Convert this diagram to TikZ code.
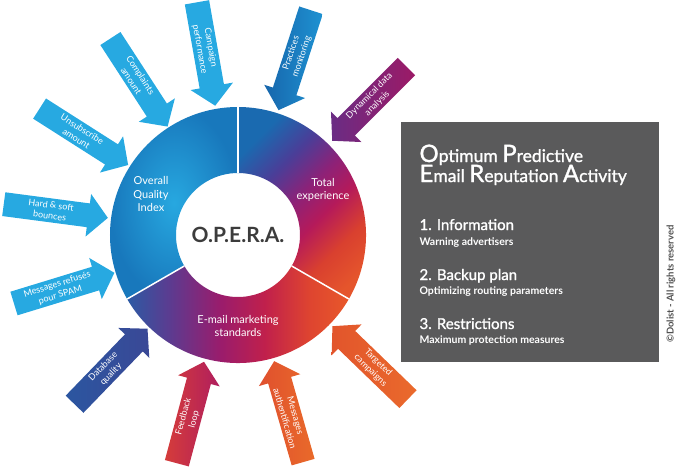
\documentclass[tikz,border=0pt]{standalone}
\usepackage{fontspec}
\setmainfont{Lato}
\newfontfamily\medfont[FakeBold=1.3]{Lato}
\usepackage{xcolor}
\usetikzlibrary{shapes.arrows,calc}
\definecolor{cyanA}{HTML}{27A9E1}
\definecolor{ringCyan}{HTML}{27A8E0}
\definecolor{ringBlue}{HTML}{1878BC}
\definecolor{boxGray}{HTML}{5A5A5B}
\definecolor{operaGray}{HTML}{3C3C3C}
\definecolor{copyGray}{HTML}{505050}
\definecolor{rA}{HTML}{1A6AB0}
\definecolor{rB}{HTML}{4A3E98}
\definecolor{rC}{HTML}{8C2278}
\definecolor{rD}{HTML}{B51A5A}
\definecolor{rE}{HTML}{D9402F}
\definecolor{rF}{HTML}{E5552C}
\definecolor{bA}{HTML}{2C5AA4}
\definecolor{bB}{HTML}{5E3A8F}
\definecolor{bC}{HTML}{9A1C6C}
\definecolor{bD}{HTML}{C0204C}
\definecolor{bE}{HTML}{DE4430}
\definecolor{bF}{HTML}{E8582A}
\pgfdeclarehorizontalshading{ringright}{100bp}{color(0bp)=(rA); color(25bp)=(rA);
  color(36bp)=(rB); color(46bp)=(rC); color(55bp)=(rD); color(65bp)=(rE);
  color(75bp)=(rF); color(100bp)=(rF)}
\pgfdeclarehorizontalshading{ringbottom}{100bp}{color(0bp)=(bA); color(25bp)=(bA);
  color(35bp)=(bB); color(46bp)=(bC); color(56bp)=(bD); color(66bp)=(bE);
  color(75bp)=(bF); color(100bp)=(bF)}
\tikzset{>=latex}
\tikzset{
  inarrow/.style={single arrow, single arrow head extend=8pt, single arrow tip angle=95,
    minimum width=43pt, minimum height=105pt, inner sep=1pt, anchor=tip,
    text=white, align=center, font=\fontsize{9}{11}\selectfont},
  outarrow/.style={inarrow, shape border rotate=180},
  ringlabel/.style={text=white, align=center, font=\fontsize{11}{13.5}\selectfont},
  boxtitle/.style={text=white, anchor=base west, font=\medfont\fontsize{17.5}{17.5}\selectfont},
  boxhead/.style={text=white, anchor=base west, font=\medfont\fontsize{15}{15}\selectfont},
  boxsub/.style={text=white, anchor=base west, font=\bfseries\fontsize{10.5}{10.5}\selectfont}
}
\newcommand{\capinit}[1]{{\fontsize{24}{24}\selectfont #1}}

\begin{document}
\begin{tikzpicture}[x=1pt,y=1pt]
  \useasboundingbox (-238,-234) rectangle (442,235);

  % Ring
  \shade[inner color=ringCyan, outer color=ringBlue] (90:128) arc[start angle=90, end angle=210, radius=128pt]
    -- (210:62) arc[start angle=210, end angle=90, radius=62pt] -- cycle;
  \shade[shading=ringright, shading angle=-45]
    (-30:128) arc[start angle=-30, end angle=90, radius=128pt]
    -- (90:62) arc[start angle=90, end angle=-30, radius=62pt] -- cycle;
  \shade[shading=ringbottom]
    (210:128) arc[start angle=210, end angle=330, radius=128pt]
    -- (330:62) arc[start angle=330, end angle=210, radius=62pt] -- cycle;
  \foreach \a in {90,210,330}
    \draw[white, line width=1.5pt] (\a:62) -- (\a:128);

  % Labels
  \node[font=\bfseries\fontsize{21}{21}\selectfont, text=operaGray] (opera) at (0,0) {O.P.E.R.A.};
  \node[ringlabel] (quality) at (-87,41) {Overall\\Quality\\Index};
  \node[ringlabel] (experience) at (85,45) {Total\\experience};
  \node[ringlabel] (standards) at (0,-91) {E-mail marketing\\standards};

  % Arrows
  \node[inarrow, rotate=-80, fill=cyanA] (arCampaign) at (100:131) {Campaign\\performance};
  \node[outarrow, rotate=72, left color={rgb,255:red,23;green,102;blue,172}, right color={rgb,255:red,30;green,146;blue,210}] (arPractices) at (72:131) {Practices\\monitoring};
  \node[outarrow, rotate=45, left color={rgb,255:red,106;green,44;blue,132}, right color={rgb,255:red,156;green,26;blue,102}] (arDynamic) at (45:133) {Dynamical data\\analysis};
  \node[outarrow, rotate=-44, left color={rgb,255:red,226;green,85;blue,44}, right color={rgb,255:red,234;green,106;blue,44}] (arTargeted) at (-44:131) {Targeted\\campaigns};
  \node[outarrow, rotate=-74, left color={rgb,255:red,224;green,80;blue,46}, right color={rgb,255:red,233;green,106;blue,42}] (arAuth) at (-74:131) {Messages\\authentification};
  \node[inarrow, rotate=75, left color={rgb,255:red,213;green,60;blue,58}, right color={rgb,255:red,176;green,30;blue,94}] (arFeedback) at (255:131) {Feedback\\loop};
  \node[inarrow, rotate=46, left color={rgb,255:red,43;green,86;blue,160}, right color={rgb,255:red,58;green,72;blue,150}] (arDatabase) at (226:130) {Database\\quality};
  \node[inarrow, rotate=17, fill=cyanA] (arSpam) at (197:129) {Messages refusés\\pour SPAM};
  \node[inarrow, rotate=-7.5, fill=cyanA] (arBounce) at (172.5:131) {Hard \& soft\\bounces};
  \node[inarrow, rotate=-32.5, fill=cyanA] (arUnsub) at (147.5:130) {Unsubscribe\\amount};
  \node[inarrow, rotate=-57, fill=cyanA] (arComplaint) at (123:129) {Complaints\\amount};

  % Box
  \node[fill=boxGray, minimum width=258pt, minimum height=240pt, inner sep=0pt, anchor=north west] (box) at (163,113) {};
  \node[boxtitle] (ttlOne) at ($(box.north west)+(15,-40)$) {\capinit{O}ptimum \capinit{P}redictive};
  \node[boxtitle] (ttlTwo) at ($(box.north west)+(15,-60)$) {\capinit{E}mail \capinit{R}eputation \capinit{A}ctivity};
  \node[boxhead] (infoHead) at ($(box.north west)+(15,-108)$) {1. Information};
  \node[boxsub] (infoSub) at ($(box.north west)+(15,-123)$) {Warning advertisers};
  \node[boxhead] (planHead) at ($(box.north west)+(15,-158)$) {2. Backup plan};
  \node[boxsub] (planSub) at ($(box.north west)+(15,-172)$) {Optimizing routing parameters};
  \node[boxhead] (restHead) at ($(box.north west)+(15,-207)$) {3. Restrictions};
  \node[boxsub] (restSub) at ($(box.north west)+(15,-221)$) {Maximum protection measures};

  % Copyright
  \node[rotate=90, text=copyGray, font=\bfseries\fontsize{9.5}{9.5}\selectfont] (copy) at (433,-49) {©Dolist - All rights reserved};
\end{tikzpicture}
\end{document}
